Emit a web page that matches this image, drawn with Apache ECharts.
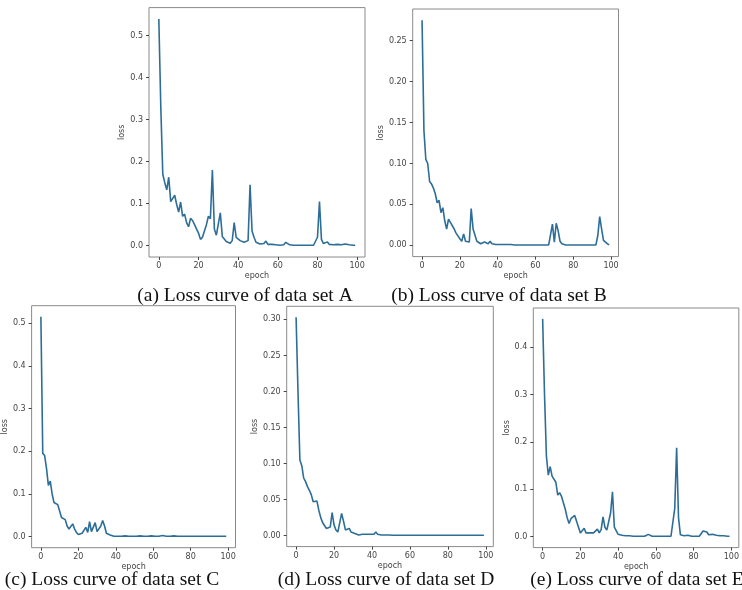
<!DOCTYPE html>
<html>
<head>
<meta charset="utf-8">
<script src="https://cdn.jsdelivr.net/npm/echarts@6/dist/echarts.min.js"></script>
<style>
html,body{margin:0;padding:0;background:#fff;}
#chart{width:742px;height:590px;}
</style>
</head>
<body>
<div id="chart"></div>
<script>
// ---- data ----
const epochTicks = [0, 20, 40, 60, 80, 100];

const lossA = [
  0.54, 0.33, 0.17, 0.15, 0.133, 0.163, 0.105, 0.106, 0.12, 0.098,
  0.08, 0.104, 0.07, 0.075, 0.055, 0.045, 0.065, 0.06, 0.05, 0.04,
  0.03, 0.015, 0.02, 0.035, 0.05, 0.07, 0.064, 0.18, 0.04, 0.025,
  0.025, 0.078, 0.022, 0.02, 0.01, 0.006, 0.006, 0.012, 0.055, 0.02,
  0.022, 0.012, 0.01, 0.008, 0.005, 0.012, 0.145, 0.035, 0.02, 0.008,
  0.004, 0.004, 0.004, 0.005, 0.011, 0.003, 0.002, 0.003, 0.007, 0.002,
  0.001, 0.001, 0.001, 0.002, 0.008, 0.007, 0.002, 0.001, 0.001, 0.001,
  0.001, 0.003, 0.001, 0.001, 0.001, 0.001, 0.001, 0.001, 0.001, 0.002,
  0.02, 0.105, 0.015, 0.005, 0.003, 0.009, 0.003, 0.002, 0.002, 0.002,
  0.003, 0.006, 0.002, 0.001, 0.004, 0.003, 0.002, 0.001, 0.001, 0.001
];
const lossB = [
  0.275, 0.14, 0.105, 0.1, 0.078, 0.075, 0.07, 0.063, 0.052, 0.055,
  0.04, 0.046, 0.03, 0.02, 0.032, 0.028, 0.028, 0.02, 0.015, 0.015,
  0.008, 0.005, 0.014, 0.005, 0.003, 0.004, 0.045, 0.02, 0.018, 0.005,
  0.003, 0.002, 0.002, 0.004, 0.002, 0.002, 0.005, 0.002, 0.001, 0.001,
  0.001, 0.001, 0.001, 0.001, 0.001, 0.001, 0.002, 0.001, 0.0005, 0.0005,
  0.0005, 0.0005, 0.001, 0.0005, 0.0005, 0.0005, 0.001, 0.0005, 0.0005, 0.0005,
  0.0005, 0.0005, 0.0005, 0.0005, 0.0005, 0.0005, 0.0005, 0.0005, 0.001, 0.026,
  0.004, 0.027, 0.018, 0.005, 0.002, 0.001, 0.0005, 0.0005, 0.0005, 0.0005,
  0.0005, 0.0005, 0.0005, 0.0005, 0.0005, 0.0005, 0.0005, 0.0005, 0.0005, 0.0005,
  0.0005, 0.0005, 0.0005, 0.012, 0.035, 0.02, 0.006, 0.005, 0.002, 0.0005
];
const lossC = [
  0.515, 0.195, 0.19, 0.16, 0.12, 0.13, 0.1, 0.08, 0.082, 0.075,
  0.06, 0.045, 0.045, 0.04, 0.025, 0.018, 0.02, 0.03, 0.018, 0.01,
  0.005, 0.005, 0.008, 0.01, 0.022, 0.01, 0.035, 0.012, 0.008, 0.033,
  0.012, 0.01, 0.025, 0.038, 0.025, 0.008, 0.012, 0.004, 0.002, 0.001,
  0.001, 0.001, 0.001, 0.001, 0.003, 0.002, 0.001, 0.001, 0.001, 0.001,
  0.001, 0.001, 0.001, 0.002, 0.001, 0.001, 0.001, 0.001, 0.001, 0.002,
  0.001, 0.001, 0.001, 0.001, 0.001, 0.003, 0.001, 0.001, 0.001, 0.001,
  0.001, 0.002, 0.001, 0.001, 0.001, 0.001, 0.001, 0.001, 0.001, 0.001,
  0.001, 0.001, 0.001, 0.001, 0.001, 0.001, 0.001, 0.001, 0.001, 0.001,
  0.001, 0.001, 0.001, 0.001, 0.001, 0.001, 0.001, 0.001, 0.001, 0.001
];
const lossD = [
  0.303, 0.2, 0.105, 0.097, 0.08, 0.075, 0.068, 0.063, 0.057, 0.047,
  0.045, 0.048, 0.035, 0.025, 0.018, 0.02, 0.01, 0.008, 0.012, 0.032,
  0.015, 0.008, 0.005, 0.006, 0.031, 0.02, 0.008, 0.006, 0.01, 0.005,
  0.004, 0.003, 0.002, 0.001, 0.001, 0.002, 0.001, 0.002, 0.001, 0.002,
  0.001, 0.002, 0.005, 0.002, 0.001, 0.001, 0.001, 0.001, 0.001, 0.001,
  0.0005, 0.0005, 0.0005, 0.0005, 0.0005, 0.0005, 0.0005, 0.0005, 0.0005, 0.0005,
  0.0005, 0.0005, 0.0005, 0.0005, 0.0005, 0.0005, 0.0005, 0.0005, 0.0005, 0.0005,
  0.0005, 0.0005, 0.0005, 0.0005, 0.0005, 0.0005, 0.0005, 0.0005, 0.0005, 0.0005,
  0.0005, 0.0005, 0.0005, 0.0005, 0.0005, 0.0005, 0.0005, 0.0005, 0.0005, 0.0005,
  0.0005, 0.0005, 0.0005, 0.0005, 0.0005, 0.0005, 0.0005, 0.0005, 0.0005, 0.0005
];
const lossE = [
  0.46, 0.3, 0.17, 0.13, 0.148, 0.128, 0.125, 0.115, 0.088, 0.093,
  0.085, 0.082, 0.058, 0.04, 0.028, 0.038, 0.04, 0.045, 0.048, 0.02,
  0.008, 0.01, 0.018, 0.008, 0.006, 0.008, 0.005, 0.008, 0.01, 0.016,
  0.008, 0.015, 0.042, 0.02, 0.014, 0.015, 0.05, 0.095, 0.02, 0.018,
  0.005, 0.004, 0.003, 0.002, 0.002, 0.003, 0.002, 0.002, 0.001, 0.002,
  0.001, 0.001, 0.001, 0.002, 0.001, 0.002, 0.005, 0.002, 0.001, 0.001,
  0.001, 0.001, 0.001, 0.001, 0.001, 0.001, 0.001, 0.001, 0.001, 0.003,
  0.06, 0.188, 0.04, 0.004, 0.003, 0.002, 0.002, 0.003, 0.001, 0.001,
  0.001, 0.001, 0.001, 0.001, 0.005, 0.012, 0.012, 0.01, 0.004, 0.003,
  0.005, 0.007, 0.003, 0.002, 0.002, 0.004, 0.002, 0.001, 0.001, 0.001
];

const yTicksA = [0, 0.1, 0.2, 0.3, 0.4, 0.5];
const yTicksB = [0, 0.05, 0.10, 0.15, 0.20, 0.25];
const yTicksC = [0, 0.1, 0.2, 0.3, 0.4, 0.5];
const yTicksD = [0, 0.05, 0.10, 0.15, 0.20, 0.25, 0.30];
const yTicksE = [0, 0.1, 0.2, 0.3, 0.4];

const captions = [
  '(a) Loss curve of data set A',
  '(b) Loss curve of data set B',
  '(c) Loss curve of data set C',
  '(d) Loss curve of data set D',
  '(e) Loss curve of data set E'
];

// ---- layout ----
const panels = [
  {data: lossA, ticks: yTicksA, dec: 1, grid: {left: 149, top: 7.6, width: 216, height: 249.4}, ymin: -0.027, ymax: 0.567, ygap: 19, cap: [245, 296]},
  {data: lossB, ticks: yTicksB, dec: 2, grid: {left: 412.7, top: 9, width: 205.8, height: 247.6}, ymin: -0.01375, ymax: 0.28875, ygap: 23, cap: [499, 296]},
  {data: lossC, ticks: yTicksC, dec: 1, grid: {left: 31.5, top: 305.7, width: 204, height: 242}, ymin: -0.02575, ymax: 0.54075, ygap: 17, cap: [112, 580]},
  {data: lossD, ticks: yTicksD, dec: 2, grid: {left: 286.7, top: 306.3, width: 206.6, height: 240.3}, ymin: -0.01515, ymax: 0.31815, ygap: 23, cap: [386, 580]},
  {data: lossE, ticks: yTicksE, dec: 1, grid: {left: 533.3, top: 308, width: 209.3, height: 239.6}, ymin: -0.023, ymax: 0.483, ygap: 19, cap: [637, 580]}
];

const labelFont = {fontFamily: 'DejaVu Sans', fontSize: 8, color: '#444'};

const option = {
  animation: false,
  backgroundColor: '#fff',
  grid: panels.map(p => Object.assign({show: true, borderColor: '#8a8a8a', borderWidth: 1, backgroundColor: 'transparent'}, p.grid)),
  xAxis: panels.map((p, i) => ({
    type: 'value', gridIndex: i, min: -4.95, max: 103.95, position: 'bottom',
    name: 'epoch', nameLocation: 'middle', nameGap: 15,
    nameTextStyle: labelFont,
    axisLine: {show: false, onZero: false},
    splitLine: {show: false},
    axisTick: {show: true, inside: false, customValues: epochTicks, length: 3, lineStyle: {color: '#444'}},
    axisLabel: Object.assign({customValues: epochTicks, margin: 5, formatter: v => String(v)}, labelFont)
  })),
  yAxis: panels.map((p, i) => ({
    type: 'value', gridIndex: i, min: p.ymin, max: p.ymax, position: 'left',
    name: 'loss', nameLocation: 'middle', nameGap: p.ygap,
    nameTextStyle: labelFont,
    axisLine: {show: false, onZero: false},
    splitLine: {show: false},
    axisTick: {show: true, inside: false, customValues: p.ticks, length: 3, lineStyle: {color: '#444'}},
    axisLabel: Object.assign({customValues: p.ticks, margin: 6, formatter: v => Number(v).toFixed(p.dec)}, labelFont)
  })),
  series: panels.map((p, i) => ({
    type: 'line', xAxisIndex: i, yAxisIndex: i,
    data: p.data.map((v, k) => [k, v]),
    showSymbol: false, symbol: 'none',
    lineStyle: {color: '#2d6e98', width: 1.6},
    silent: true
  })),
  graphic: panels.map((p, i) => ({
    type: 'text', x: p.cap[0], y: p.cap[1],
    style: {text: captions[i], fill: '#111', font: '19.5px "Liberation Serif"', textAlign: 'center', textVerticalAlign: 'middle'}
  }))
};

const chart = echarts.init(document.getElementById('chart'), null, {renderer: 'canvas'});
chart.setOption(option);
</script>
</body>
</html>
